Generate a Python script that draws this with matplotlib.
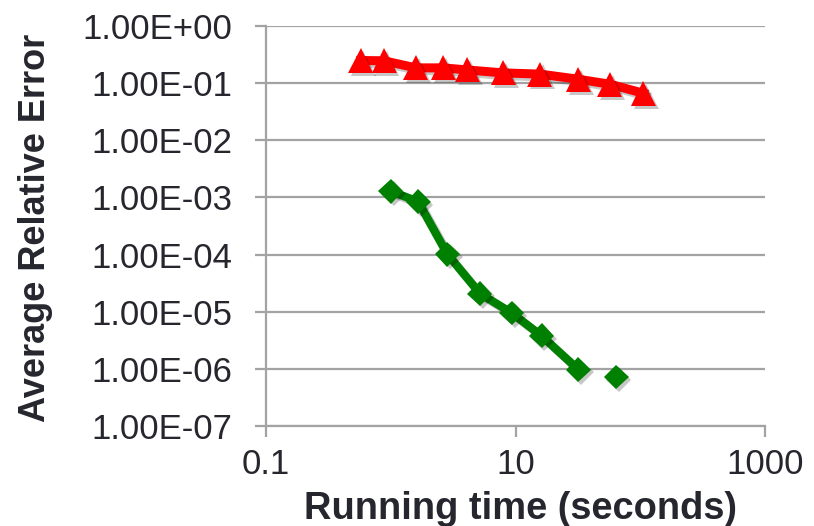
import matplotlib
matplotlib.use("Agg")
import matplotlib.pyplot as plt
import matplotlib.patheffects as pe
import numpy as np

# Data
red_time = [0.574, 0.883, 1.59, 2.64, 4.11, 7.98, 15.7, 31.9, 57.2, 106]
red_err = [0.249, 0.246, 0.185, 0.185, 0.170, 0.151, 0.144, 0.117, 0.0957, 0.0665]

green_time = [1.0, 1.66, 2.84, 5.19, 9.33, 16.2, 31.9, 64.0]
green_err = [1.29e-3, 8.4e-4, 1.02e-4, 2.08e-5, 9.5e-6, 3.77e-6, 9.7e-7, 7.2e-7]
green_connected = 7  # the last point is not joined by the line

y_ticks = [1e0, 1e-1, 1e-2, 1e-3, 1e-4, 1e-5, 1e-6, 1e-7]
y_tick_labels = ["1.00E+00", "1.00E-01", "1.00E-02", "1.00E-03",
                 "1.00E-04", "1.00E-05", "1.00E-06", "1.00E-07"]
x_ticks = [0.1, 10, 1000]
x_tick_labels = ["0.1", "10", "1000"]

plt.rcParams['font.family'] = ['Liberation Sans', 'DejaVu Sans']
text_color = '#26262e'
grid_color = '#a3a3a3'

W, H = 814, 526
fig = plt.figure(figsize=(W / 100, H / 100), dpi=100)
ax = fig.add_axes([266 / W, 1 - 426 / H, (765 - 266) / W, (426 - 26) / H])

ax.set_xscale('log')
ax.set_yscale('log')
ax.set_xlim(0.1, 1000)
ax.set_ylim(1e-7, 1e0)

line_shadow = [pe.SimpleLineShadow(offset=(2, -2), shadow_color='k', alpha=0.22), pe.Normal()]
mark_shadow = [pe.SimplePatchShadow(offset=(2, -2), shadow_rgbFace='k', alpha=0.22), pe.Normal()]

# red series
ax.plot(red_time, red_err, color='#ff0000', lw=6.5, solid_joinstyle='round',
        zorder=3, path_effects=line_shadow)
ax.plot(red_time, red_err, ls='none', marker='^', ms=18, color='#ff0000',
        markeredgewidth=0, zorder=4, path_effects=mark_shadow)

# green series
ax.plot(green_time[:green_connected], green_err[:green_connected], color='#008000',
        lw=6, solid_joinstyle='round', zorder=3, path_effects=line_shadow)
ax.plot(green_time, green_err, ls='none', marker='D', ms=12.7, color='#008000',
        markeredgewidth=0, zorder=4, path_effects=mark_shadow)

# axes styling
ax.set_yticks(y_ticks)
ax.set_yticklabels(y_tick_labels)
ax.set_xticks(x_ticks)
ax.set_xticklabels(x_tick_labels)
ax.minorticks_off()
ax.yaxis.set_minor_locator(matplotlib.ticker.NullLocator())
ax.xaxis.set_minor_locator(matplotlib.ticker.NullLocator())

ax.grid(axis='y', color=grid_color, lw=1.6, zorder=1)
ax.set_axisbelow(True)
for s in ['top', 'right']:
    ax.spines[s].set_visible(False)
for s in ['left', 'bottom']:
    ax.spines[s].set_color(grid_color)
    ax.spines[s].set_linewidth(1.6)

ax.tick_params(axis='y', which='major', length=8, width=1.6, color=grid_color,
               pad=16, labelsize=25, labelcolor=text_color)
ax.tick_params(axis='x', which='major', length=8, width=1.6, color=grid_color,
               pad=7.5, labelsize=25, labelcolor=text_color)

ax.set_xlabel("Running time (seconds)", fontsize=27.4, fontweight='bold',
              color=text_color, va='baseline')
ax.xaxis.set_label_coords((520 - 266) / 499, -(519 - 426) / 400)
ax.set_ylabel("Average Relative Error", fontsize=26, fontweight='bold',
              color=text_color, va='baseline')
ax.yaxis.set_label_coords((45 - 266) / 499, 0.5 - 1.5 / 400)

fig.savefig("out.png", dpi=100)
